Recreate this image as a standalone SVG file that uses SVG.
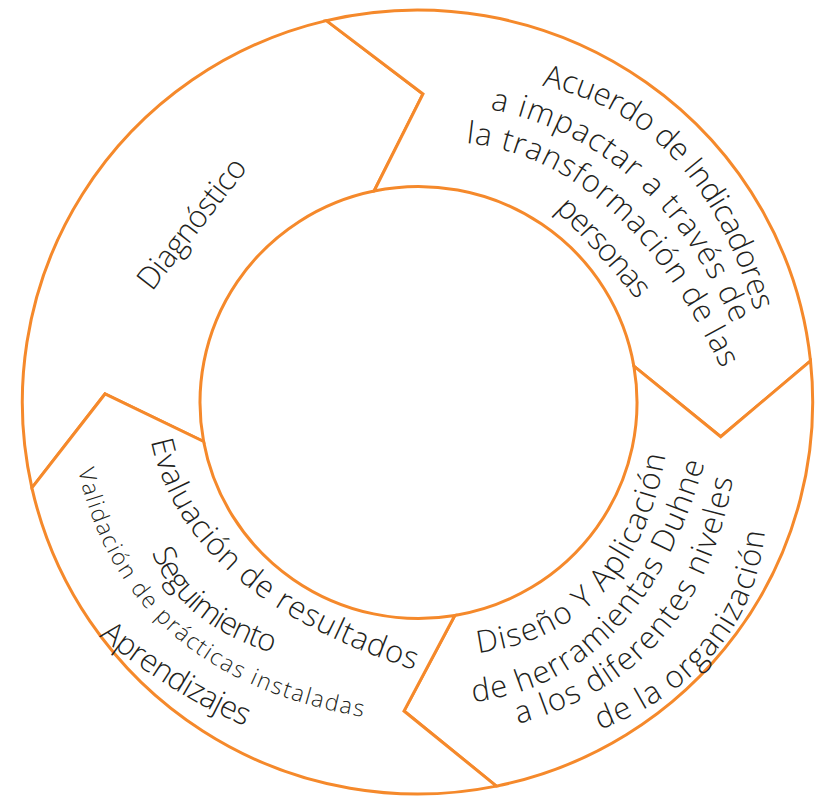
<svg xmlns="http://www.w3.org/2000/svg" xmlns:xlink="http://www.w3.org/1999/xlink" width="821" height="797" viewBox="0 0 821 797">
<style>
.seg{fill:#ffffff;stroke:#F5892B;stroke-width:3;stroke-linejoin:miter}
.t{font-family:"Open Sans","Liberation Sans",sans-serif;font-weight:300;font-size:31px;fill:#231F20}
.s{font-size:23px}
</style>
<defs>
<path id="pDiag" d="M152,292 L248,168"/>
<path id="pA1" d="M542,86 Q697.5,116.5 755,313"/>
<path id="pA2" d="M490,109 Q654.5,143 733,325"/>
<path id="pA3" d="M466,143 Q622,159.5 722,370"/>
<path id="pA4" d="M555,210 Q592,245 637,300"/>
<path id="pR1" d="M478,653 Q634,633 666,453"/>
<path id="pR2" d="M473,702 Q641,682 705,462"/>
<path id="pR3" d="M518,724 Q700.5,673.5 733,477"/>
<path id="pR4" d="M600,730 Q751.5,670 765,530"/>
<path id="pB1" d="M151,441 Q183,594.5 415,670"/>
<path id="pB2" d="M152,552 Q177.5,623.5 273,653"/>
<path id="pB3" d="M78,470 Q125,676.5 364,717"/>
<path id="pB4" d="M99,636 Q172,695 245,726"/>
</defs>
<rect width="821" height="797" fill="#ffffff"/>
<g id="diagnostico">
<path class="seg" d="M31.9,487.8 A395.2,392 0 0 1 326.4,20.6 L423,94 L374.1,191 A218.5,216 0 0 0 203.6,441.5 L105,394 Z"/>
<text class="t"><textPath xlink:href="#pDiag" href="#pDiag" textLength="157">Diagnóstico</textPath></text>
</g>
<g id="acuerdo">
<path class="seg" d="M326.4,20.6 A395.2,392 0 0 1 810.5,360.9 L720.7,436.7 L633.9,366.2 A218.5,216 0 0 0 374.1,191 L423,94 Z"/>
<text class="t"><textPath xlink:href="#pA1" href="#pA1" textLength="327">Acuerdo de Indicadores</textPath></text>
<text class="t"><textPath xlink:href="#pA2" href="#pA2" textLength="338">a impactar a través de</textPath></text>
<text class="t"><textPath xlink:href="#pA3" href="#pA3" textLength="357">la transformación de las</textPath></text>
<text class="t"><textPath xlink:href="#pA4" href="#pA4" textLength="122">personas</textPath></text>
</g>
<g id="diseno">
<path class="seg" d="M810.5,360.9 A395.2,392 0 0 1 496.4,786.1 L404,711 L454.8,615.5 A218.5,216 0 0 0 633.9,366.2 L720.7,436.7 Z"/>
<text class="t"><textPath xlink:href="#pR1" href="#pR1" textLength="295">Diseño Y Aplicación</textPath></text>
<text class="t"><textPath xlink:href="#pR2" href="#pR2" textLength="355">de herramientas Duhne</textPath></text>
<text class="t"><textPath xlink:href="#pR3" href="#pR3" textLength="347">a los diferentes niveles</textPath></text>
<text class="t"><textPath xlink:href="#pR4" href="#pR4" textLength="273">de la organización</textPath></text>
</g>
<g id="evaluacion">
<path class="seg" d="M496.4,786.1 A395.2,392 0 0 1 31.9,487.8 L105,394 L203.6,441.5 A218.5,216 0 0 0 454.8,615.5 L404,711 Z"/>
<text class="t"><textPath xlink:href="#pB1" href="#pB1" textLength="366">Evaluación de resultados</textPath></text>
<text class="t"><textPath xlink:href="#pB2" href="#pB2" textLength="163">Seguimiento</textPath></text>
<text class="t s"><textPath xlink:href="#pB3" href="#pB3" textLength="403">Validación de prácticas instaladas</textPath></text>
<text class="t"><textPath xlink:href="#pB4" href="#pB4" textLength="172">Aprendizajes</textPath></text>
</g>
<g id="connectors"></g>
</svg>
